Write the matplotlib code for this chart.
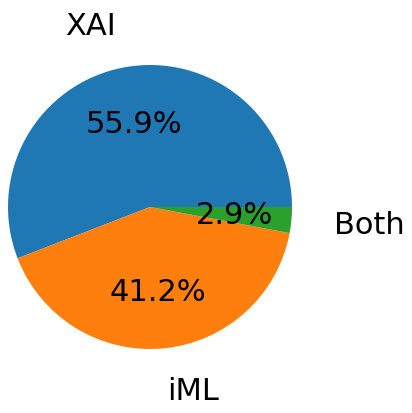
import matplotlib
matplotlib.use("Agg")
from matplotlib import pyplot as plt

# counts per category
labels = ["XAI", "iML", "Both"]
counts = [19, 14, 1]

fig = plt.figure(figsize=(4.12, 4.14), dpi=100)
ax = fig.add_axes([-27.5 / 412, 28.5 / 414, 355 / 412, 355 / 414])
ax.pie(counts, labels=labels, autopct="%1.1f%%", labeldistance=1.3,
       textprops={"fontsize": 22})
ax.set_aspect("equal")
fig.savefig("out.png", dpi=100)
